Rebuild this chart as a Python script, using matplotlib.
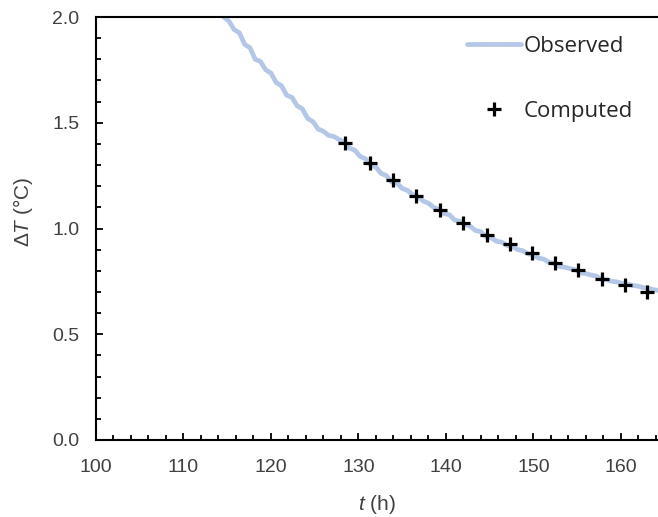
import matplotlib
matplotlib.use("Agg")
import matplotlib.pyplot as plt
from matplotlib.ticker import MultipleLocator, FormatStrFormatter

plt.rcParams["mathtext.fontset"] = "custom"
plt.rcParams["mathtext.it"] = "Liberation Sans:italic"
plt.rcParams["mathtext.rm"] = "Liberation Sans"

# observed temperature difference (slightly stepped record)
obs_t = [114.6, 115.2, 115.8, 116.4, 117.0, 117.6, 118.2, 118.8, 119.4, 120.0,
         120.6, 121.2, 121.8, 122.4, 123.0, 123.6, 124.2, 124.8, 125.4, 126.0,
         126.6, 127.2, 127.8, 128.4, 129.0, 129.6, 130.2, 130.8, 131.4, 132.0,
         132.6, 133.2, 133.8, 134.4, 135.0, 135.6, 136.2, 136.8, 137.4, 138.0,
         138.6, 139.2, 139.8, 140.4, 141.0, 141.6, 142.2, 142.8, 143.4, 144.0,
         144.6, 145.2, 145.8, 146.4, 147.0, 147.6, 148.2, 148.8, 149.4, 150.0,
         150.6, 151.2, 151.8, 152.4, 153.0, 153.6, 154.2, 154.8, 155.4, 156.0,
         156.6, 157.2, 157.8, 158.4, 159.0, 159.6, 160.2, 160.8, 161.4, 162.0,
         162.6, 163.2, 163.8, 164.4]
obs_dT = [2.000, 1.980, 1.940, 1.925, 1.870, 1.855, 1.800, 1.790, 1.750, 1.735,
          1.690, 1.675, 1.630, 1.620, 1.580, 1.565, 1.520, 1.505, 1.470, 1.460,
          1.440, 1.435, 1.420, 1.410, 1.380, 1.370, 1.340, 1.330, 1.300, 1.290,
          1.260, 1.250, 1.220, 1.215, 1.190, 1.180, 1.160, 1.150, 1.130, 1.120,
          1.100, 1.090, 1.070, 1.065, 1.040, 1.035, 1.020, 1.010, 0.990, 0.985,
          0.960, 0.955, 0.940, 0.935, 0.920, 0.915, 0.900, 0.895, 0.880, 0.875,
          0.860, 0.855, 0.840, 0.835, 0.820, 0.817, 0.810, 0.805, 0.790, 0.787,
          0.780, 0.775, 0.760, 0.757, 0.750, 0.747, 0.740, 0.737, 0.730, 0.727,
          0.720, 0.717, 0.710, 0.707]

# computed values
comp_t = [128.5, 131.3, 133.9, 136.6, 139.3, 142.0, 144.7, 147.3, 149.8,
          152.5, 155.1, 157.9, 160.5, 163.0]
comp_dT = [1.406, 1.311, 1.229, 1.153, 1.087, 1.027, 0.971, 0.926, 0.882,
           0.838, 0.804, 0.763, 0.734, 0.698]

INK = "#404040"
BLUE = "#b4c7e7"

fig = plt.figure(figsize=(6.58, 5.17), dpi=100)
ax = fig.add_axes([96 / 658, 1 - 440 / 517, 1 - 96 / 658, (440 - 17) / 517])

ax.plot(obs_t, obs_dT, color=BLUE, lw=3.4, solid_joinstyle="round",
        solid_capstyle="round", label="Observed")
ax.plot(comp_t, comp_dT, ls="none", marker="+", ms=10, mew=2.3,
        color="black", label="Computed", zorder=3)

ax.set_xlim(100, 164.25)
ax.set_ylim(0, 2.0)
ax.xaxis.set_major_locator(MultipleLocator(10))
ax.xaxis.set_minor_locator(MultipleLocator(2))
ax.yaxis.set_major_locator(MultipleLocator(0.5))
ax.yaxis.set_minor_locator(MultipleLocator(0.1))
ax.yaxis.set_major_formatter(FormatStrFormatter("%.1f"))

for s in ("left", "bottom", "top"):
    ax.spines[s].set_linewidth(1.5)
ax.spines["right"].set_visible(False)
ax.tick_params(which="both", direction="in", width=1.3, top=False, right=False,
               labelsize=14, labelcolor=INK)
ax.tick_params(which="major", length=5)
ax.tick_params(which="minor", length=3.5)
ax.tick_params(axis="y", pad=12)
ax.tick_params(axis="x", pad=14)
for lab in ax.get_xticklabels() + ax.get_yticklabels():
    lab.set_family("Liberation Sans")

ax.set_ylabel(r"$\mathit{\Delta T}$ (°C)", fontsize=15, color=INK,
              family="Liberation Sans")
ax.yaxis.set_label_coords(-0.108, 0.539)
ax.set_xlabel(r"$t$ (h)", fontsize=15, color=INK, family="Liberation Sans")
ax.xaxis.set_label_coords(0.5, -0.125)

leg = ax.legend(loc="upper left", bbox_to_anchor=(467 / 658, 1 - 36 / 517),
                bbox_transform=fig.transFigure, frameon=False, borderpad=0,
                borderaxespad=0, handlelength=2.45, handletextpad=0.12,
                labelspacing=1.98, prop={"family": "Open Sans", "size": 16})
for t in leg.get_texts():
    t.set_color("#262626")

fig.savefig("out.png", dpi=100)
